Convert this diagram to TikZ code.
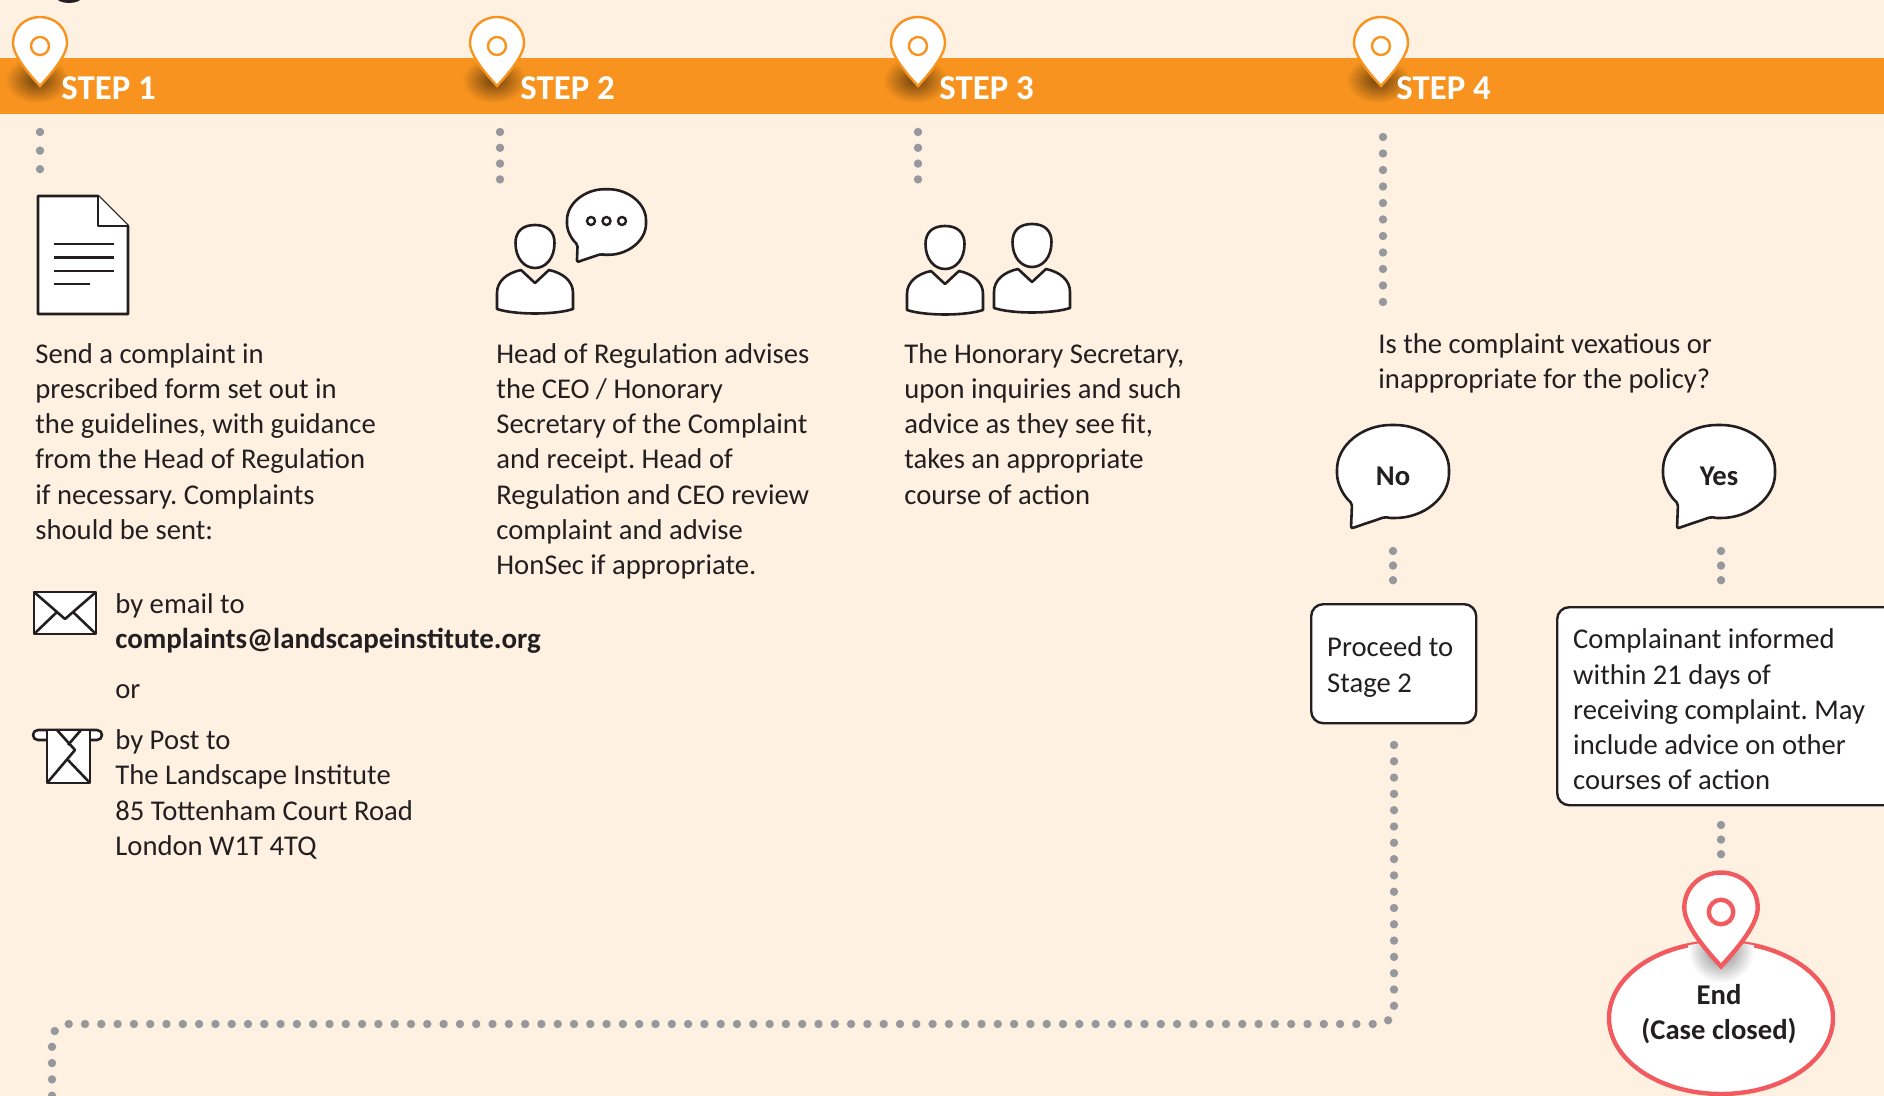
\documentclass[tikz,border=0pt]{standalone}
\usepackage{fontspec}
\setmainfont{Carlito}
\usetikzlibrary{shapes.geometric}
\frenchspacing

\definecolor{paper}{HTML}{FEF1E2}
\definecolor{bandorange}{HTML}{F7931E}
\definecolor{ink}{HTML}{231F20}
\definecolor{dotgrey}{HTML}{96989D}
\definecolor{endred}{HTML}{F15B5F}

\newcommand{\boxlift}{\rule{0pt}{13.2pt}}

\tikzset{
    bodytext/.style={anchor=north west, inner sep=0pt, align=left, text=ink, font=\fontsize{14.32}{17.6}\selectfont},
    boldtext/.style={inner sep=0pt, align=center, text=ink, font=\fontsize{14.32}{17.6}\selectfont\bfseries},
    steplabel/.style={anchor=base west, inner sep=0pt, text=white, font=\fontsize{17.4}{18}\selectfont\bfseries},
    dotline/.style={draw=dotgrey, line width=4.2pt, line cap=round, dash pattern=on 0pt off #1},
    icon/.style={draw=ink, fill=white, line width=1.3pt, line join=round},
    answerbox/.style={anchor=north west, draw=ink, fill=white, line width=1.2pt, rounded corners=6pt, inner xsep=8pt, inner ysep=0pt, align=flush left, text=ink, font=\fontsize{14.32}{17.6}\selectfont},
    pinmark/.pic={
        \path[pic actions] (0,40) .. controls (-10,29) and (-27,10) .. (-27,-3)
            .. controls (-27,-18) and (-15,-29) .. (0,-29)
            .. controls (15,-29) and (27,-18) .. (27,-3)
            .. controls (27,10) and (10,29) .. (0,40) -- cycle;
        \path[pic actions] (0,0) circle (9);
    },
    person/.pic={
        \path[icon] (0,-43) .. controls (13,-43) and (19.5,-36) .. (19.5,-25)
            .. controls (19.5,-10) and (11,0) .. (0,0)
            .. controls (-11,0) and (-19.5,-10) .. (-19.5,-25)
            .. controls (-19.5,-36) and (-13,-43) .. (0,-43) -- cycle;
        \path[icon] (0,15) -- (-14,2) .. controls (-28,5) and (-38,13) .. (-38,25)
            -- (-38,41) .. controls (-20,47) and (20,47) .. (38,41)
            -- (38,25) .. controls (38,13) and (28,5) .. (14,2) -- cycle;
    },
    bubble/.pic={
        \path[icon, rounded corners=1pt] (-41,32) .. controls (-50,24) and (-56,12) .. (-56,0)
            .. controls (-56,-26) and (-31,-46.5) .. (0,-46.5)
            .. controls (31,-46.5) and (56,-26) .. (56,0)
            .. controls (56,26) and (31,46.5) .. (0,46.5)
            .. controls (-3,46.5) and (-5,46) .. (-8,45.5)
            -- (-42,57) -- cycle;
    },
}

\begin{document}
\begin{tikzpicture}[x=.5pt, y=-.5pt]
    \useasboundingbox (0,0) rectangle (1884,1096);
    \fill[paper] (0,0) rectangle (1884,1096);

    % cut off end of the title
    \fill[ink] (69,-3) ellipse (13 and 6);

    \fill[bandorange] (0,58) rectangle (1884,114);

    \foreach \px/\lx/\n in {40/61/1, 497/520/2, 918/939/3, 1381/1396/4} {
        \shade[inner color=black!55!bandorange, outer color=bandorange] (\px-3,80) ellipse (32 and 23);
        \pic[draw=bandorange, fill=white, line width=1.2pt] at (\px,46) {pinmark};
        \node[steplabel] (step\n) at (\lx,100) {STEP \n};
    }

    % dots under the band
    \coordinate (dotsonea) at (40,132);
    \coordinate (dotsoneb) at (40,170);
    \coordinate (dotstwoa) at (500,132);
    \coordinate (dotstwob) at (500,180);
    \coordinate (dotsthreea) at (918,132);
    \coordinate (dotsthreeb) at (918,180);
    \coordinate (dotsfoura) at (1383,137);
    \coordinate (dotsfourb) at (1383,303);
    \draw[dotline=9.3pt] (dotsonea) -- (dotsoneb);
    \draw[dotline=7.9pt] (dotstwoa) -- (dotstwob);
    \draw[dotline=7.9pt] (dotsthreea) -- (dotsthreeb);
    \draw[dotline=8.25pt] (dotsfoura) -- (dotsfourb);

    % document
    \path[icon] (38,196) -- (98,196) -- (128,226) -- (128,314) -- (38,314) -- cycle;
    \path[icon] (98,196) -- (98,226) -- (128,226);
    \foreach \ly/\lx in {244/114, 257.5/114, 271/114, 284/90} {
        \draw[ink, line width=1.2pt] (53.5,\ly) -- (\lx,\ly);
    }

    % speaker and the two people
    \pic at (535,268) {person};
    \pic[scale=.705] at (606.5,222) {bubble};
    \foreach \bx in {591, 606.5, 622} {
        \draw[ink, line width=1.2pt] (\bx,221) circle (4);
    }
    \pic at (945,269) {person};
    \pic at (1032,267) {person};

    \node[bodytext] (sendtext) at (35,343) {Send a complaint in\\prescribed form set out in\\the guidelines, with guidance\\from the Head of Regulation\\if necessary. Complaints\\should be sent:};
    \node[bodytext] (headtext) at (496,343) {Head of Regulation advises\\the CEO / Honorary\\Secretary of the Complaint\\and receipt. Head of\\Regulation and CEO review\\complaint and advise\\HonSec if appropriate.};
    \node[bodytext] (hontext) at (904,343) {The Honorary Secretary,\\upon inquiries and such\\advice as they see fit,\\takes an appropriate\\course of action};
    \node[bodytext] (asktext) at (1378,333) {Is the complaint vexatious or\\inappropriate for the policy?};

    % envelope
    \path[icon] (34,592) rectangle (96,634);
    \draw[ink, line width=1.3pt, line join=round] (34,592) -- (65,619) -- (96,592);
    \draw[ink, line width=1.3pt] (34,634) -- (57,612);
    \draw[ink, line width=1.3pt] (96,634) -- (73,612);
    \node[bodytext] (emailtext) at (115,593.5) {by email to\\{\fontsize{14.45}{17.6}\selectfont\bfseries complaints@landscapeinstitute.org}};
    \node[bodytext] (ortext) at (115,684) {or};

    % post
    \path[icon, rounded corners=2.5pt] (33,730) rectangle (102,740);
    \path[icon] (47,730) rectangle (90,783);
    \draw[ink, line width=1.3pt, line join=round] (57,730) -- (75,750) -- (47,783);
    \draw[ink, line width=1.3pt] (81,730) -- (68,745);
    \draw[ink, line width=1.3pt] (68,760) -- (90,783);
    \node[bodytext] (posttext) at (115,729.5) {by Post to\\The Landscape Institute\\85 Tottenham Court Road\\London W1T 4TQ};

    % answers
    \pic at (1393,471.5) {bubble};
    \pic at (1719,471.5) {bubble};
    \node[boldtext] (notext) at (1393,476) {No};
    \node[boldtext] (yestext) at (1719,476) {Yes};

    \node[answerbox, text width=66.5pt, minimum height=59.5pt] (stagebox) at (1310,603) {\boxlift Proceed to\\Stage 2};
    \node[answerbox, text width=156pt, minimum height=99pt] (informbox) at (1556,606) {\boxlift Complainant informed\\within 21 days of\\receiving complaint. May\\include advice on other\\courses of action};

    \coordinate (dotsnoa) at (1393,551);
    \coordinate (dotsnob) at (1393,581);
    \coordinate (dotsyesa) at (1721,551);
    \coordinate (dotsyesb) at (1721,581);
    \coordinate (dotsenda) at (1721,825);
    \coordinate (dotsendb) at (1721,855);
    \draw[dotline=7.3pt] (dotsnoa) -- (dotsnob);
    \draw[dotline=7.3pt] (dotsyesa) -- (dotsyesb);
    \draw[dotline=7.3pt] (dotsenda) -- (dotsendb);

    % way back to the next stage
    \coordinate (backa) at (1394,745);
    \coordinate (backb) at (1394,1024);
    \coordinate (backc) at (52,1024);
    \coordinate (backd) at (52,1100);
    \draw[dotline=8.15pt, rounded corners=8pt] (backa) -- (backb) -- (backc) -- (backd);

    % end of the case
    \node[ellipse, draw=endred, fill=white, line width=2.2pt, minimum width=112pt, minimum height=76pt, inner sep=0pt] (endoval) at (1721,1018) {};
    \begin{scope}
        \clip (1721,1018) ellipse (112 and 76);
        \shade[inner color=black!50!white, outer color=white] (1721,950) circle (33);
    \end{scope}
    \pic[draw=endred, fill=white, line width=2.2pt, scale=1.36] at (1721,912) {pinmark};
    \node[boldtext] (endtext) at (1719,1014.5) {End\\(Case closed)};
\end{tikzpicture}
\end{document}
